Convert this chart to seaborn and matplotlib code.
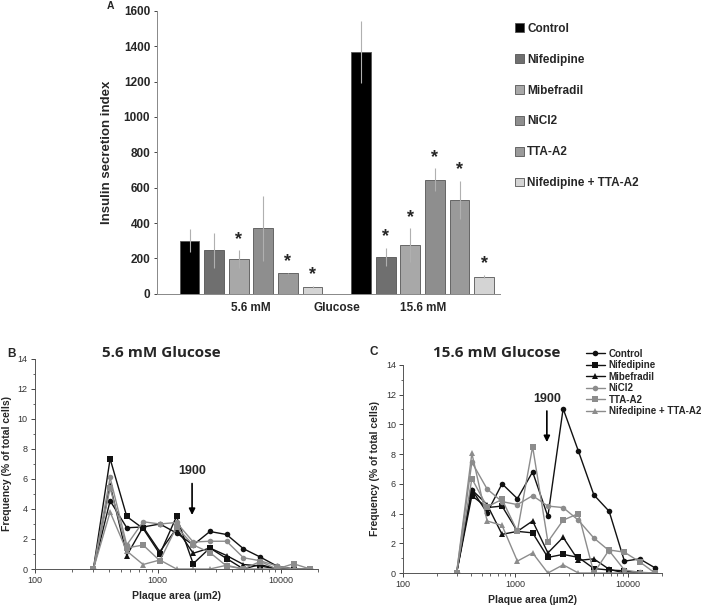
#! /usr/bin/env python3
'''
Insulin secretion (bars) and plaque area distributions (lines)
'''
import matplotlib
matplotlib.use('Agg')
import matplotlib.pyplot as plt
import pandas as pd
import seaborn as sns

# ---- data -------------------------------------------------------------
treatments = ['Control', 'Nifedipine', 'Mibefradil', 'NiCl2', 'TTA-A2', 'Nifedipine + TTA-A2']
glucose = ['5.6 mM', '15.6 mM']

ins_low = [300, 245, 195, 370, 115, 38]
err_low = [65, 100, 50, 185, 5, 7]
star_low = [False, False, True, False, True, True]
ins_high = [1370, 210, 275, 645, 530, 97]
err_high = [175, 50, 95, 65, 107, 8]
star_high = [False, True, True, True, True, True]

area = [300, 410, 560, 760, 1040, 1420, 1940, 2650, 3620, 4970, 6790, 9280, 12680, 17320]

b_control = [0, 4.55, 2.75, 2.8, 3.0, 2.4, 1.6, 2.5, 2.3, 1.35, 0.8, 0.2, 0, 0]
b_nif = [0, 7.35, 3.5, 2.7, 1.0, 3.5, 0.35, 1.4, 0.7, 0, 0.3, 0, 0, 0]
b_mib = [0, 5.6, 0.9, 2.8, 1.15, 2.7, 1.05, 1.4, 0.9, 0.3, 0.2, 0, 0, 0]
b_nicl2 = [0, 6.1, 1.6, 3.15, 3.0, 3.1, 1.8, 1.85, 1.85, 0.75, 0.55, 0.2, 0, 0]
b_tta = [0, 5.4, 1.4, 1.6, 0.55, 2.8, 1.6, 1.1, 0.2, 0, 0.5, 0, 0.35, 0]
b_niftta = [0, 3.8, 1.2, 0.3, 0.6, 0, 0, 0, 0.25, 0, 0, 0, 0, 0]

c_control = [0, 5.6, 4.05, 6.0, 5.0, 6.8, 3.8, 11.05, 8.2, 5.25, 4.15, 0.8, 0.95, 0.35]
c_nif = [0, 5.2, 4.4, 4.5, 2.8, 2.7, 1.05, 1.25, 1.05, 0.3, 0.2, 0.15, 0, 0]
c_mib = [0, 5.6, 4.6, 2.6, 2.8, 3.5, 1.35, 2.4, 0.85, 0.95, 0.25, 0, 0, 0]
c_nicl2 = [0, 7.45, 5.65, 4.8, 4.6, 5.2, 4.5, 4.4, 3.55, 2.35, 1.5, 0.2, 0.05, 0]
c_tta = [0, 6.35, 4.45, 4.95, 2.8, 8.5, 2.1, 3.55, 4.0, 0, 1.55, 1.4, 0.75, 0]
c_niftta = [0, 8.05, 3.5, 3.2, 0.8, 1.35, 0, 0.55, 0, 0, 0, 0, 0, 0]

# ---- styles -----------------------------------------------------------
bar_colors = ['#000000', '#6f6f6f', '#a8a8a8', '#8e8e8e', '#9a9a9a', '#d4d4d4']
line_colors = ['#111111', '#111111', '#111111', '#8c8c8c', '#8c8c8c', '#8c8c8c']
line_markers = ['o', 's', '^', 'o', 's', '^']
plain = ['Liberation Sans', 'DejaVu Sans']

sns.set_style('ticks')
plt.rcParams['font.family'] = plain

fig = plt.figure(figsize=(7.08, 6.07), dpi=100)

# ---- panel A: bars ----------------------------------------------------
axA = fig.add_axes([0.222, 0.516, 0.484, 0.466])
df = pd.DataFrame({
    'glucose': [g for g in glucose for _ in treatments],
    'treatment': treatments * 2,
    'value': ins_low + ins_high,
})
sns.barplot(data=df, x='glucose', y='value', hue='treatment', hue_order=treatments,
            palette=bar_colors, width=0.86, gap=0.2, errorbar=None,
            edgecolor='#555555', linewidth=0.6, ax=axA)

errs = [err_low, err_high]
stars = [star_low, star_high]
vals = [ins_low, ins_high]
bar_conts = list(axA.containers)
for i, cont in enumerate(bar_conts):
    for j, bar in enumerate(cont):
        cx = bar.get_x() + bar.get_width() / 2
        axA.errorbar(cx, vals[j][i], yerr=errs[j][i], color='#b0b0b0', lw=0.8,
                     capsize=0, zorder=5)
        if stars[j][i]:
            axA.text(cx, vals[j][i] + errs[j][i] + 15, '*', ha='center', va='bottom',
                     fontsize=13, fontweight='bold')

handles, labels = axA.get_legend_handles_labels()
axA.legend_.remove()
fig.legend(handles, labels, loc='upper left', bbox_to_anchor=(0.712, 0.98),
           frameon=False, labelspacing=1.6, handlelength=0.75, handleheight=0.75,
           handletextpad=0.3, prop={'weight': 'bold', 'size': 8.5})

axA.set_xlim(-0.547, 1.45)
axA.set_ylim(0, 1600)
axA.set_yticks(range(0, 1601, 200))
axA.set_xticks([0, 0.5, 1], ['5.6 mM', 'Glucose', '15.6 mM'])
axA.tick_params(axis='x', length=0, pad=6)
axA.tick_params(axis='y', length=2, width=0.6, pad=3)
for lab in axA.get_xticklabels() + axA.get_yticklabels():
    lab.set_fontweight('bold')
    lab.set_fontsize(8.5)
axA.set_xlabel('')
axA.set_ylabel('Insulin secretion index', fontweight='bold', fontsize=9.5, labelpad=8)
sns.despine(ax=axA)
for s in ['left', 'bottom']:
    axA.spines[s].set_color('#888888')
    axA.spines[s].set_linewidth(0.7)

# ---- panels B and C: distributions -------------------------------------
def dist_panel(ax, series, arrow_txt_y, arrow_tip_y, legend=False):
    for vals_, lab, col, mk in zip(series, treatments, line_colors, line_markers):
        sns.lineplot(x=area, y=vals_, color=col, marker=mk, markersize=4,
                     markeredgewidth=0, lw=1.0, label=lab, ax=ax, legend=False)
    ax.set_xscale('log')
    ax.set_xlim(100, 20000)
    ax.set_ylim(0, 14)
    ax.set_yticks(range(0, 15, 2))
    ax.set_yticks(range(1, 15, 2), minor=True)
    ax.tick_params(which='major', length=3, width=0.6, labelsize=6.5, labelcolor='#333333', pad=2)
    ax.tick_params(which='minor', length=1.8, width=0.5)
    ax.set_xticks([100, 1000, 10000], ['100', '1000', '10000'])
    ax.set_xlabel('Plaque area (µm2)', fontweight='bold', fontsize=7.5)
    ax.set_ylabel('Frequency (% of total cells)', fontweight='bold', fontsize=7.5)
    ax.annotate('1900', xy=(1900, arrow_tip_y), xytext=(1900, arrow_txt_y),
                ha='center', va='bottom', fontsize=9, fontweight='bold',
                arrowprops=dict(arrowstyle='-|>', color='black', lw=1.2,
                                mutation_scale=9, shrinkA=2, shrinkB=0))
    sns.despine(ax=ax)
    for s in ['left', 'bottom']:
        ax.spines[s].set_color('#555555')
        ax.spines[s].set_linewidth(0.7)
    if legend:
        h, l = ax.get_legend_handles_labels()
        fig.legend(h, l, loc='upper left', bbox_to_anchor=(0.815, 0.44),
                   frameon=False, labelspacing=0.15, handlelength=2.0,
                   handletextpad=0.35, prop={'weight': 'bold', 'size': 7})

axB = fig.add_axes([0.049, 0.0626, 0.40, 0.346])
dist_panel(axB, [b_control, b_nif, b_mib, b_nicl2, b_tta, b_niftta], 6.1, 3.6)

axC = fig.add_axes([0.569, 0.056, 0.366, 0.343])
dist_panel(axC, [c_control, c_nif, c_mib, c_nicl2, c_tta, c_niftta], 11.3, 8.8, legend=True)

title_font = ['Open Sans', 'DejaVu Sans']
fig.text(161 / 708, 1 - 353 / 607, '5.6 mM Glucose', family=title_font,
         fontweight='bold', fontsize=11, ha='center', va='center')
fig.text(497 / 708, 1 - 353 / 607, '15.6 mM Glucose', family=title_font,
         fontweight='bold', fontsize=11, ha='center', va='center')

# panel letters
fig.text(110 / 708, 1 - 6 / 607, 'A', fontsize=7.5, fontweight='bold', ha='center', va='center')
fig.text(12 / 708, 1 - 354 / 607, 'B', fontsize=8.5, fontweight='bold', ha='center', va='center')
fig.text(374 / 708, 1 - 352 / 607, 'C', fontsize=8.5, fontweight='bold', ha='center', va='center')

fig.savefig('out.png', dpi=100)
